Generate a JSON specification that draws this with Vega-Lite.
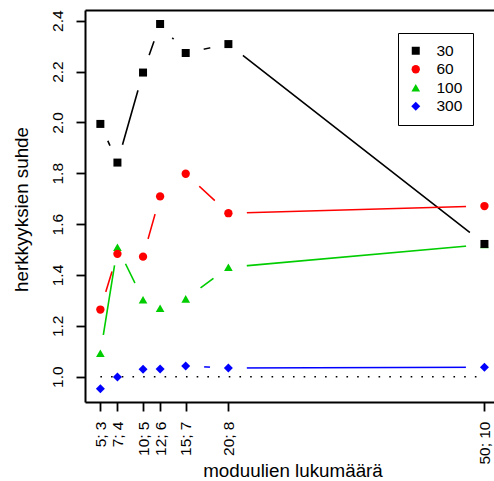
{
  "$schema": "https://vega.github.io/schema/vega-lite/v6.json",
  "width": 409,
  "height": 392,
  "autosize": {"type": "none"},
  "padding": {"left": 85, "top": 10, "right": 0, "bottom": 79},
  "background": "white",
  "config": {
    "font": "Liberation Sans",
    "view": {"stroke": null},
    "axis": {"grid": false, "domainColor": "black", "domainWidth": 2, "tickColor": "black", "tickWidth": 1.8, "tickSize": 9, "labelColor": "black", "titleColor": "black", "labelFontSize": 15.5, "titleFontSize": 18.8, "titleFontWeight": "normal", "zindex": 1}
  },
  "data": {
    "values": [
      {"series": "30", "m": 5, "v": 1.994},
      {"series": "30", "m": 7, "v": 1.842},
      {"series": "30", "m": 10, "v": 2.196},
      {"series": "30", "m": 12, "v": 2.387},
      {"series": "30", "m": 15, "v": 2.273},
      {"series": "30", "m": 20, "v": 2.308},
      {"series": "30", "m": 50, "v": 1.522},
      {"series": "60", "m": 5, "v": 1.264},
      {"series": "60", "m": 7, "v": 1.483},
      {"series": "60", "m": 10, "v": 1.472},
      {"series": "60", "m": 12, "v": 1.709},
      {"series": "60", "m": 15, "v": 1.798},
      {"series": "60", "m": 20, "v": 1.643},
      {"series": "60", "m": 50, "v": 1.671},
      {"series": "100", "m": 5, "v": 1.092},
      {"series": "100", "m": 7, "v": 1.509},
      {"series": "100", "m": 10, "v": 1.303},
      {"series": "100", "m": 12, "v": 1.269},
      {"series": "100", "m": 15, "v": 1.306},
      {"series": "100", "m": 20, "v": 1.43},
      {"series": "100", "m": 50, "v": 1.52},
      {"series": "300", "m": 5, "v": 0.953},
      {"series": "300", "m": 7, "v": 0.999},
      {"series": "300", "m": 10, "v": 1.029},
      {"series": "300", "m": 12, "v": 1.03},
      {"series": "300", "m": 15, "v": 1.042},
      {"series": "300", "m": 20, "v": 1.034},
      {"series": "300", "m": 50, "v": 1.037}
    ]
  },
  "resolve": {"axis": {"x": "independent", "y": "independent"}},
  "layer": [
    {
      "transform": [{"filter": "datum.series == '30'"}],
      "mark": {"type": "line", "color": "black", "strokeWidth": 1.6, "strokeCap": "butt"},
      "encoding": {
        "x": {"field": "m", "type": "quantitative", "scale": {"domain": [3.2, 51.12], "nice": false, "zero": false},
          "axis": {"orient": "bottom", "zindex": 2, "values": [5, 7, 10, 12, 15, 20, 50], "labelAngle": 270, "labelAlign": "right", "labelBaseline": "middle", "labelPadding": 10,
            "labelExpr": "datum.value == 5 ? '5; 3' : datum.value == 7 ? '7; 4' : datum.value == 10 ? '10; 5' : datum.value == 12 ? '12; 6' : datum.value == 15 ? '15; 7' : datum.value == 20 ? '20; 8' : '50; 10'",
            "title": "moduulien lukumäärä", "titleX": 207.5, "titleY": 74.3, "titleBaseline": "alphabetic", "titleAlign": "center", "titleAnchor": null}},
        "y": {"field": "v", "type": "quantitative", "scale": {"domain": [0.9005, 2.442], "nice": false, "zero": false},
          "axis": {"orient": "left", "zindex": 2, "values": [1, 1.2, 1.4, 1.6, 1.8, 2, 2.2, 2.4], "format": ".1f", "labelAngle": 270, "labelAlign": "center", "labelBaseline": "alphabetic", "labelPadding": 14,
            "title": "herkkyyksien suhde", "titleAngle": 270, "titleX": -58, "titleY": 199, "titleBaseline": "alphabetic", "titleAlign": "center"}}
      }
    },
    {
      "transform": [{"filter": "datum.series == '30'"}],
      "mark": {"type": "point", "shape": "circle", "filled": true, "color": "white", "opacity": 1, "size": 1369, "clip": true},
      "encoding": {"x": {"field": "m", "type": "quantitative", "axis": null}, "y": {"field": "v", "type": "quantitative", "axis": null}}
    },
    {
      "transform": [{"filter": "datum.series == '60'"}],
      "mark": {"type": "line", "color": "#FF0000", "strokeWidth": 1.6, "strokeCap": "butt"},
      "encoding": {"x": {"field": "m", "type": "quantitative", "axis": null}, "y": {"field": "v", "type": "quantitative", "axis": null}}
    },
    {
      "transform": [{"filter": "datum.series == '60'"}],
      "mark": {"type": "point", "shape": "circle", "filled": true, "color": "white", "opacity": 1, "size": 1369, "clip": true},
      "encoding": {"x": {"field": "m", "type": "quantitative", "axis": null}, "y": {"field": "v", "type": "quantitative", "axis": null}}
    },
    {
      "transform": [{"filter": "datum.series == '100'"}],
      "mark": {"type": "line", "color": "#00CD00", "strokeWidth": 1.6, "strokeCap": "butt"},
      "encoding": {"x": {"field": "m", "type": "quantitative", "axis": null}, "y": {"field": "v", "type": "quantitative", "axis": null}}
    },
    {
      "transform": [{"filter": "datum.series == '100'"}],
      "mark": {"type": "point", "shape": "circle", "filled": true, "color": "white", "opacity": 1, "size": 1369, "clip": true},
      "encoding": {"x": {"field": "m", "type": "quantitative", "axis": null}, "y": {"field": "v", "type": "quantitative", "axis": null}}
    },
    {
      "transform": [{"filter": "datum.series == '300'"}],
      "mark": {"type": "line", "color": "#0000FF", "strokeWidth": 1.6, "strokeCap": "butt"},
      "encoding": {"x": {"field": "m", "type": "quantitative", "axis": null}, "y": {"field": "v", "type": "quantitative", "axis": null}}
    },
    {
      "transform": [{"filter": "datum.series == '300'"}],
      "mark": {"type": "point", "shape": "circle", "filled": true, "color": "white", "opacity": 1, "size": 1369, "clip": true},
      "encoding": {"x": {"field": "m", "type": "quantitative", "axis": null}, "y": {"field": "v", "type": "quantitative", "axis": null}}
    },
    {
      "data": {"values": [{}]},
      "mark": {"type": "rule", "color": "black", "strokeWidth": 1.6, "strokeDash": [1.6, 9.1], "strokeCap": "butt"},
      "encoding": {"x": {"datum": 5, "axis": null}, "x2": {"datum": 50}, "y": {"datum": 1, "axis": null}}
    },
    {
      "mark": {"type": "point", "filled": true, "opacity": 1, "strokeWidth": 0},
      "encoding": {
        "x": {"field": "m", "type": "quantitative", "axis": {"orient": "top", "zindex": 2, "labels": false, "ticks": false, "title": null, "domain": true}},
        "y": {"field": "v", "type": "quantitative", "axis": null},
        "color": {"field": "series", "type": "nominal", "sort": ["30", "60", "100", "300"],
          "scale": {"domain": ["30", "60", "100", "300"], "range": ["black", "#FF0000", "#00CD00", "#0000FF"]},
          "legend": {"orient": "none", "legendX": 313, "legendY": 23, "title": null, "padding": 10, "strokeColor": "black", "fillColor": "white", "labelFontSize": 15.5, "labelColor": "black", "labelOffset": 13, "rowPadding": 1.5, "symbolStrokeWidth": 0}},
        "shape": {"field": "series", "type": "nominal", "sort": ["30", "60", "100", "300"],
          "scale": {"domain": ["30", "60", "100", "300"], "range": ["square", "circle", "triangle-up", "diamond"]}},
        "size": {"field": "series", "type": "nominal", "sort": ["30", "60", "100", "300"],
          "scale": {"domain": ["30", "60", "100", "300"], "range": [64, 81, 75, 36]}},
        "order": {"field": "series", "type": "quantitative"}
      }
    }
  ]
}
